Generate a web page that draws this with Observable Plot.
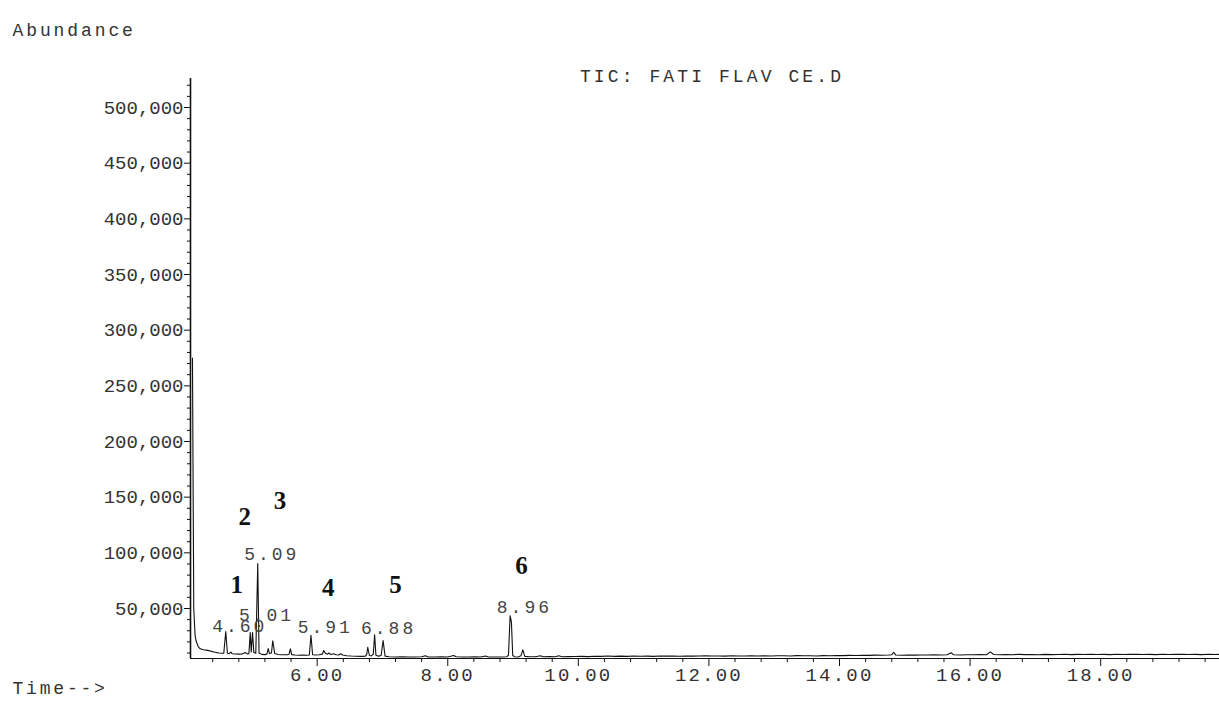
<!DOCTYPE html>
<html>
<head>
<meta charset="utf-8">
<script src="https://cdn.jsdelivr.net/npm/d3@7"></script>
<script src="https://cdn.jsdelivr.net/npm/@observablehq/plot@0.6"></script>
<style>
  html, body { margin: 0; padding: 0; background: #fff; }
</style>
</head>
<body>
<div id="chart"></div>
<script>
// Retention time (min) and abundance of the TIC trace
const times = [
  4.09, 4.11, 4.13, 4.145, 4.16, 4.18, 4.21, 4.26, 4.30, 4.34, 4.38, 4.42, 4.46, 4.50, 4.54, 4.57,
  4.60, 4.625, 4.65, 4.68, 4.70, 4.75, 4.80, 4.85, 4.90, 4.93, 4.955, 4.975, 4.99, 5.01, 5.03, 5.06,
  5.09, 5.11, 5.15, 5.20, 5.23, 5.25, 5.27, 5.30, 5.32, 5.35, 5.40, 5.45, 5.50, 5.55, 5.57, 5.59,
  5.61, 5.66, 5.72, 5.78, 5.84, 5.88, 5.905, 5.93, 5.98, 6.03, 6.08, 6.10, 6.13, 6.16, 6.18, 6.21,
  6.25, 6.29, 6.33, 6.36, 6.39, 6.45, 6.52, 6.60, 6.68, 6.74, 6.76, 6.775, 6.80, 6.83, 6.86, 6.88,
  6.90, 6.94, 6.98, 7.01, 7.04, 7.10, 7.20, 7.30, 7.40, 7.50, 7.60, 7.66, 7.70, 7.80, 7.90, 8.00,
  8.09, 8.13, 8.22, 8.32, 8.42, 8.50, 8.58, 8.62, 8.72, 8.82, 8.90, 8.93, 8.955, 8.975, 8.995, 9.02,
  9.08, 9.12, 9.15, 9.18, 9.25, 9.34, 9.42, 9.46, 9.56, 9.65, 9.70, 9.75, 9.85, 9.95, 10.05, 10.15,
  10.25, 10.35, 10.45, 10.55, 10.65, 10.75, 10.85, 10.95, 11.05, 11.15, 11.25, 11.35, 11.45, 11.55,
  11.65, 11.75, 11.85, 11.95, 12.05, 12.15, 12.25, 12.35, 12.45, 12.55, 12.65, 12.75, 12.85, 12.95,
  13.05, 13.15, 13.25, 13.35, 13.45, 13.55, 13.65, 13.75, 13.85, 13.95, 14.05, 14.15, 14.25, 14.35,
  14.45, 14.55, 14.65, 14.75, 14.80, 14.83, 14.86, 14.95, 15.05, 15.15, 15.25, 15.35, 15.45, 15.55,
  15.65, 15.71, 15.75, 15.85, 15.95, 16.05, 16.15, 16.25, 16.31, 16.36, 16.45, 16.55, 16.65, 16.75,
  16.85, 16.95, 17.05, 17.15, 17.25, 17.35, 17.45, 17.55, 17.65, 17.75, 17.85, 17.95, 18.05, 18.15,
  18.25, 18.35, 18.45, 18.55, 18.65, 18.75, 18.85, 18.95, 19.05, 19.15, 19.25, 19.35, 19.45, 19.55,
  19.65, 19.75, 19.82
];
const abundance = [
  275000, 50000, 26000, 21000, 18500, 15500, 13800, 13000, 12600, 12200, 11500, 11000, 10400, 10000, 9800, 9900,
  29300, 9800, 9400, 10800, 9300, 9100, 9000, 9200, 10500, 9200, 9500, 28500, 11000, 28500, 10500, 9800,
  90400, 10000, 8800, 8600, 9000, 14000, 9500, 10000, 21000, 9500, 8700, 8500, 8400, 8600, 9000, 13800,
  8600, 8200, 8000, 8300, 8000, 8200, 26000, 8500, 8300, 8400, 9000, 12300, 9500, 9000, 10000, 8600,
  9300, 8400, 8300, 9400, 8200, 7600, 7300, 7100, 7000, 7200, 9000, 15200, 7800, 7400, 9000, 26400,
  8000, 7200, 7800, 21300, 7200, 6700, 6500, 6700, 6400, 6500, 6600, 7600, 6500, 6400, 6600, 6500,
  7800, 6600, 6400, 6500, 6600, 6400, 7300, 6500, 6400, 6500, 6600, 8000, 43500, 38000, 8000, 6600,
  6500, 7500, 12900, 7000, 6600, 6700, 7600, 6600, 6800, 6600, 7500, 6700, 6800, 6900, 7000, 6800,
  7100, 7000, 7300, 7000, 7200, 7000, 7300, 7100, 7200, 7000, 7400, 7200, 7300, 7100,
  7400, 7200, 7300, 7600, 7300, 7400, 7200, 7500, 7300, 7400, 7600, 7300, 7500, 7400,
  7600, 7500, 7400, 7700, 7500, 7600, 7400, 7700, 7600, 7800, 7700, 7900, 7800, 8000,
  7900, 8100, 8000, 8200, 8400, 10700, 8300, 8000, 8200, 8100, 8300, 8200, 8400, 8300,
  8500, 10300, 8400, 8300, 8500, 8400, 8600, 8500, 11000, 8700, 8500, 8700, 8500, 8800,
  8600, 8700, 8500, 8800, 8600, 8700, 8900, 8600, 8800, 8700, 8900, 8700, 8800, 8600,
  8900, 8700, 8800, 8900, 8700, 8800, 8600, 8900, 8700, 8800, 8900, 8700, 8800, 8600,
  8900, 8700, 8800
];

// Axis ticks
const xDomain = [4.06, 19.82];
const yDomain = [5090, 526050];
const xMajorTicks = [6, 8, 10, 12, 14, 16, 18];
const xMinorTicks = [4.4, 4.8, 5.2, 5.6, 6.4, 6.8, 7.2, 7.6, 8.4, 8.8, 9.2, 9.6, 10.4, 10.8, 11.2, 11.6,
  12.4, 12.8, 13.2, 13.6, 14.4, 14.8, 15.2, 15.6, 16.4, 16.8, 17.2, 17.6, 18.4, 18.8, 19.2, 19.6];
const yMajorTicks = [50000, 100000, 150000, 200000, 250000, 300000, 350000, 400000, 450000, 500000];
const yMinorTicks = d3.range(10000, 530000, 10000).filter(v => v % 50000 !== 0);

// Integrated peak labels (retention time) and their label heights
const peakLabels = ["4.60", "5.01", "5.09", "5.91", "6.88", "8.96"];
const peakTimes = [4.60, 5.01, 5.09, 5.91, 6.88, 8.96];
const peakLabelAbund = [33800, 43700, 98500, 32900, 32000, 50900];

// Compound number annotations
const annotNums = ["1", "2", "3", "4", "5", "6"];
const annotTimes = [4.77, 4.89, 5.43, 6.17, 7.20, 9.13];
const annotAbund = [71500, 132000, 147000, 68000, 71500, 88500];

const titleText = "TIC: FATI FLAV CE.D";
const yLabel = "Abundance";
const xLabel = "Time-->";

const signal = times.map((t, i) => ({t, a: abundance[i]}));

const chart = Plot.plot({
  width: 1219,
  height: 707,
  marginLeft: 190,
  marginRight: 0,
  marginTop: 78,
  marginBottom: 49,
  x: {domain: xDomain},
  y: {domain: yDomain},
  style: {fontFamily: "Liberation Mono", fontSize: "19px", background: "white", color: "#333"},
  marks: [
    Plot.line(signal, {x: "t", y: "a", stroke: "#111", strokeWidth: 1.1, clip: true}),
    Plot.ruleX([xDomain[0]], {stroke: "#111", strokeWidth: 1.6}),
    Plot.ruleY([yDomain[0]], {stroke: "#111", strokeWidth: 1.2}),
    Plot.axisY(yMajorTicks, {tickSize: 6, tickPadding: 1, tickFormat: d3.format(","), label: null, fontSize: 19, stroke: "#111"}),
    Plot.axisY(yMinorTicks, {tickSize: 3, tickFormat: () => "", label: null, stroke: "#111"}),
    Plot.axisX(xMajorTicks, {tickSize: 8, tickPadding: 1, tickFormat: d3.format(".2f"), label: null, fontSize: 19, stroke: "#111"}),
    Plot.axisX(xMinorTicks, {tickSize: 4, tickFormat: () => "", label: null, stroke: "#111"}),
    Plot.text(peakLabels, {x: peakTimes, y: peakLabelAbund, text: d => d, dx: 14, fontSize: 18, fill: "#444"}),
    Plot.text(annotNums, {x: annotTimes, y: annotAbund, text: d => d, fontFamily: "Liberation Serif", fontWeight: "bold", fontSize: 25, fill: "#111"}),
    Plot.text([titleText], {frameAnchor: "top", dx: 7, dy: -9, fontSize: 18, fill: "#333"}),
    Plot.text([yLabel], {frameAnchor: "top-left", dx: -178, dy: -55, textAnchor: "start", fontSize: 18, fill: "#333"}),
    Plot.text([xLabel], {frameAnchor: "bottom-left", dx: -178, dy: 35, textAnchor: "start", fontSize: 18, fill: "#333"})
  ]
});

document.getElementById("chart").appendChild(chart);

// letter spacing to imitate the wide instrument font
const xTickSet = new Set(xMajorTicks.map(d3.format(".2f")));
const peakSet = new Set(peakLabels);
d3.select(chart).selectAll("text").each(function () {
  const t = this.textContent.trim();
  let ls = null;
  if (t === titleText) ls = "3.1px";
  else if (t === yLabel) ls = "2.9px";
  else if (t === xLabel) ls = "2.8px";
  else if (peakSet.has(t)) ls = "3px";
  else if (xTickSet.has(t)) ls = "2.2px";
  if (ls) this.setAttribute("letter-spacing", ls);
});
</script>
</body>
</html>
